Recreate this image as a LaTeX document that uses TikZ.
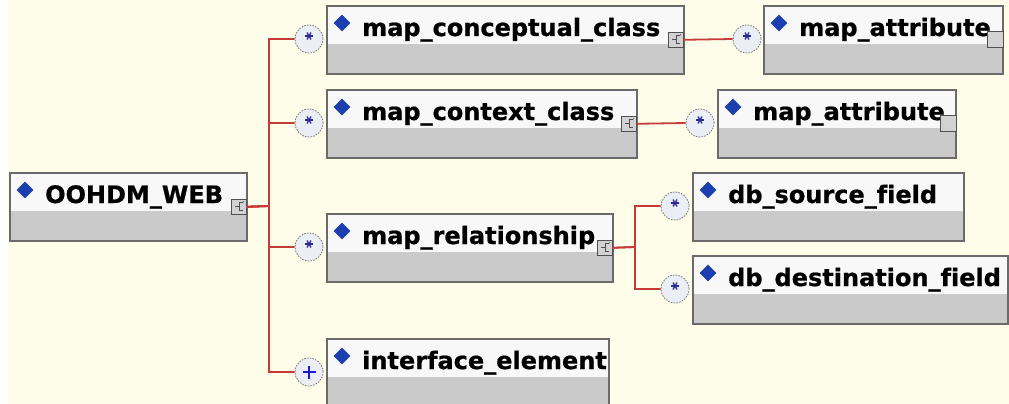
\documentclass[tikz,border=0pt]{standalone}
\usepackage{fontspec}
\newfontfamily\elemfont{DejaVu Sans}[Ligatures=CommonOff, BoldFeatures={FakeBold=0.8}]
\usetikzlibrary{shapes.geometric}

\definecolor{canvas}{HTML}{FDFDEA}
\definecolor{wire}{HTML}{C63A3A}
\definecolor{boxline}{HTML}{6A6A6A}
\definecolor{boxtop}{HTML}{F8F8F8}
\definecolor{boxbottom}{HTML}{CACACA}
\definecolor{marker}{HTML}{1C3FAF}
\definecolor{ringfill}{HTML}{ECEEF6}
\definecolor{ringline}{HTML}{7A7A7A}
\definecolor{starblue}{HTML}{2A2A9A}
\definecolor{plusblue}{HTML}{1A1AD8}
\definecolor{iconfill}{HTML}{D2D2D2}
\definecolor{iconline}{HTML}{505050}

\tikzset{
  elembox/.style 2 args={rectangle, draw=boxline, line width=1.6pt, fill=boxtop,
    anchor=north west, inner sep=0pt, minimum width=#1pt, minimum height=#2pt,
    path picture={\fill[boxbottom] ([yshift=-38pt]path picture bounding box.north west)
      rectangle (path picture bounding box.south east);}},
  elemlabel/.style={anchor=base west, inner sep=0pt, text=black,
    font=\elemfont\bfseries\fontsize{24}{28}\selectfont},
  elemmarker/.style={diamond, fill=marker, minimum size=17pt, inner sep=0pt},
  childicon/.style={rectangle, draw=iconline, fill=iconfill, line width=0.8pt,
    minimum size=15pt, inner sep=0pt,
    path picture={
      \draw[iconline, line width=0.8pt]
        ([xshift=4pt,yshift=4pt]path picture bounding box.center)
        -- ++(-3.5pt,0) -- ++(0,-8pt) -- ++(3.5pt,0)
        ([xshift=0.5pt]path picture bounding box.center) -- ++(-4pt,0);
      \fill[iconline] ([xshift=5pt,yshift=5pt]path picture bounding box.center) circle (0.6pt);}},
  attricon/.style={rectangle, draw=iconline, fill=iconfill, line width=0.8pt,
    minimum size=16pt, inner sep=0pt},
  ring/.style={circle, minimum size=28pt, inner sep=0pt, fill=ringfill,
    draw=ringline, line width=0.8pt, dash pattern=on 1.6pt off 1.2pt},
  manyring/.style={ring, path picture={
      \foreach \a in {0,60,120}
        \draw[starblue, line width=1.3pt, solid]
          ([yshift=3pt]path picture bounding box.center) ++(\a:4pt) -- ++(\a+180:8pt);}},
  somering/.style={ring, path picture={
      \draw[plusblue, line width=2.6pt, solid]
        ([xshift=-6.5pt]path picture bounding box.center) -- ++(13pt,0)
        ([yshift=-6.5pt]path picture bounding box.center) -- ++(0,13pt);}},
  wire/.style={draw=wire, line width=1.8pt},
}

\begin{document}
\begin{tikzpicture}[x=1pt, y=-1pt]
  \useasboundingbox (0,0) rectangle (1009,404);
  \fill[canvas] (0,0) rectangle (1009,404);
  \fill[white] (0,0) rectangle (8,404);

  % element boxes
  \node[elembox={237}{68}] (root) at (9,172) {};
  \node[elembox={357}{68}] (conc) at (326,5) {};
  \node[elembox={310}{68}] (ctx) at (326,89) {};
  \node[elembox={286}{68}] (rel) at (326,213) {};
  \node[elembox={282}{68}] (iface) at (326,338) {};
  \node[elembox={239}{68}] (attrA) at (763,5) {};
  \node[elembox={238}{68}] (attrB) at (717,89) {};
  \node[elembox={271}{68}] (src) at (692,172) {};
  \node[elembox={315}{68}] (dst) at (692,255) {};

  % names and markers
  \foreach \b/\t in {root/OOHDM\_WEB, conc/map\_conceptual\_class, ctx/map\_context\_class,
      rel/map\_relationship, iface/interface\_element, attrA/map\_attribute,
      attrB/map\_attribute, src/db\_source\_field, dst/db\_destination\_field}{
    \node[elemmarker] (\b-m) at ([xshift=16pt,yshift=-18pt]\b.north west) {};
    \node[elemlabel] (\b-t) at ([xshift=36pt,yshift=-31pt]\b.north west) {\t};
  }

  % content model icons
  \foreach \b in {root, conc, ctx, rel}
    \node[childicon] (\b-i) at ([xshift=-9pt]\b.east) {};
  \node[attricon] (attrA-i) at ([xshift=-8pt]attrA.east) {};
  \node[attricon] (attrB-i) at ([xshift=-8pt]attrB.east) {};

  % connector bend points
  \coordinate (busA) at (269,206);
  \coordinate (busB) at (635,247);

  % occurrence rings
  \node[manyring] (r-conc) at (309,39) {};
  \node[manyring] (r-ctx) at (309,123) {};
  \node[manyring] (r-rel) at (309,247) {};
  \node[somering] (r-iface) at (309,372) {};
  \node[manyring] (r-attrA) at (747,39) {};
  \node[manyring] (r-attrB) at (700,123) {};
  \node[manyring] (r-src) at (675,206) {};
  \node[manyring] (r-dst) at (675,289) {};

  % connectors
  \foreach \r in {r-conc, r-ctx, r-rel, r-iface}
    \draw[wire] (root-i.east) -- (busA) |- (\r.west);
  \foreach \r in {r-src, r-dst}
    \draw[wire] (rel-i.east) -- (busB) |- (\r.west);
  \draw[wire] (conc-i.east) -- (r-attrA.west);
  \draw[wire] (ctx-i.east) -- (r-attrB.west);
\end{tikzpicture}
\end{document}
